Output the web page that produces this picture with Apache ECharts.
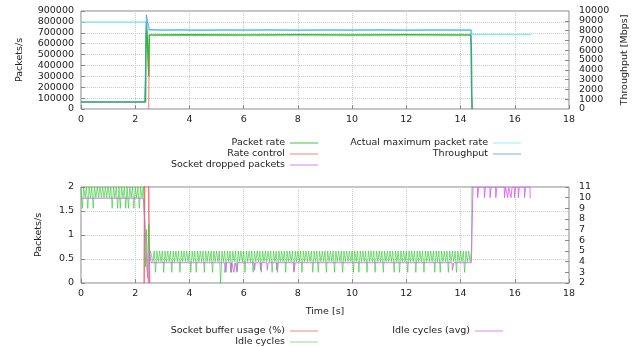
<!DOCTYPE html>
<html>
<head>
<meta charset="utf-8">
<script src="https://cdn.jsdelivr.net/npm/echarts@6/dist/echarts.min.js"></script>
<style>
  html, body { margin: 0; padding: 0; background: #fff; }
  #chart { width: 641px; height: 347px; }
</style>
</head>
<body>
<div id="chart"></div>
<script>
// top panel: [time s, value]
const packetRate = [[0, 65000], [2.38, 65000], [2.40, 630000], [2.42, 800000], [2.47, 800000], [2.50, 300000],
  [2.52, 680000], [4, 682000], [6, 680000], [8, 681000], [10, 680000], [12, 681000], [14.38, 680000],
  [14.40, 520000], [14.42, 0]];
const rateControl = [[2.50, 0], [2.51, 480000]];
const droppedPackets = [];
const actualMaxRate = [[0, 800000], [2.42, 800000], [2.46, 725000], [14.40, 725000], [14.42, 685000], [16.6, 685000]];
const throughput = [[0, 720], [2.34, 720], [2.37, 2900], [2.41, 9600], [2.48, 9600], [2.52, 8100], [3, 8050],
  [3.6, 8070], [4.4, 8040], [5.2, 8060], [6, 8050], [7, 8070], [8, 8040], [9, 8060], [10, 8050], [11, 8070],
  [12, 8040], [13, 8060], [14.38, 8050], [14.40, 1700], [14.43, 1700], [14.45, 0]];

// bottom panel
const bufferUsage = [[2.33, 0], [2.35, 2.3], [2.49, 2.3], [2.51, 1.0], [2.53, 0]];
// idle cycles sampled every 0.05 s
const idleHead = [
  11, 9, 11, 10, 11, 9, 11, 10, 11, 9,
  11, 10, 11, 10, 11, 10, 11, 10, 11, 10,
  11, 10, 11, 9, 11, 10, 11, 9, 11, 9,
  11, 10, 11, 9, 11, 9, 11, 10, 11, 9,
  11, 10, 11, 9, 11, 10, 11];
const idleTransition = [[2.32, 10], [2.35, 7.5], [2.38, 3.5], [2.42, 7.0], [2.46, 2.5], [2.50, 7.5], [2.53, 4.5], [2.56, 5]];
const idleMid = [
  5, 4, 5, 3, 5, 4, 5, 4, 5, 3,
  5, 4, 5, 4, 5, 3, 5, 4, 5, 4,
  5, 3, 5, 4, 5, 4, 5, 4, 5, 3,
  5, 4, 5, 3, 5, 4, 5, 4, 5, 3,
  5, 4, 5, 4, 5, 3, 5, 4, 5, 4,
  5, 2, 5, 4, 5, 3, 5, 4, 5, 3,
  5, 4, 5, 3, 5, 4, 5, 4, 5, 3,
  5, 4, 5, 4, 5, 3, 5, 4, 5, 4,
  5, 3, 5, 4, 5, 4, 5, 4, 5, 3,
  5, 4, 5, 3, 5, 4, 5, 4, 5, 3,
  5, 4, 5, 4, 5, 3, 5, 4, 5, 4,
  5, 3, 5, 4, 5, 4, 5, 4, 5, 3,
  5, 4, 5, 3, 5, 4, 5, 4, 5, 3,
  5, 4, 5, 4, 5, 3, 5, 4, 5, 4,
  5, 3, 5, 4, 5, 4, 5, 4, 5, 3,
  5, 4, 5, 3, 5, 4, 5, 4, 5, 3,
  5, 4, 5, 4, 5, 3, 5, 4, 5, 4,
  5, 3, 5, 4, 5, 4, 5, 4, 5, 3,
  5, 4, 5, 3, 5, 4, 5, 4, 5, 3,
  5, 4, 5, 4, 5, 3, 5, 4, 5, 4,
  5, 3, 5, 4, 5, 4, 5, 4, 5, 3,
  5, 4, 5, 3, 5, 4, 5, 4, 5, 3,
  5, 4, 5, 4, 5, 3, 5, 4, 5, 4,
  5, 3, 5, 4, 5, 4, 5];
const idleTail = [[14.42, 11], [14.46, 11]];
const idleAvg = [[0, 9.95], [2.30, 9.95], [2.36, 7.5], [2.44, 3.0], [2.50, 2.0], [2.52, 5.0], [2.57, 5.0], [2.59, 3.9],
  [5.30, 3.9], [5.31, 3.0], [5.35, 3.0], [5.36, 3.9], [5.51, 3.9], [5.52, 3.0], [5.55, 3.0], [5.56, 3.9],
  [5.63, 3.9], [5.64, 3.0], [5.67, 3.0], [5.68, 3.9], [5.75, 3.9], [5.76, 3.1], [5.78, 3.1], [5.79, 3.9],
  [6.39, 3.9], [6.40, 3.2], [6.42, 3.2], [6.43, 3.9], [6.61, 3.9], [6.62, 3.2], [6.64, 3.2], [6.65, 3.9],
  [6.86, 3.9], [6.87, 3.2], [6.89, 3.2], [6.90, 3.9], [7.21, 3.9], [7.22, 3.2], [7.24, 3.2], [7.25, 3.9],
  [7.85, 3.9], [7.86, 3.1], [7.89, 3.1], [7.90, 3.9], [13.69, 3.9], [13.70, 3.2], [13.74, 3.2], [13.75, 3.9],
  [14.40, 3.9], [14.46, 11],
  [14.62, 11], [14.63, 10], [14.66, 10], [14.67, 11], [14.87, 11], [14.88, 10], [14.91, 10], [14.92, 11],
  [15.08, 11], [15.09, 10], [15.12, 10], [15.13, 11], [15.29, 11], [15.30, 10], [15.33, 10], [15.34, 11],
  [15.61, 11], [15.62, 10], [15.65, 10], [15.66, 11], [15.73, 11], [15.74, 10], [15.77, 10], [15.78, 11],
  [15.85, 11], [15.86, 10], [15.89, 10], [15.90, 11], [15.98, 11], [15.99, 10], [16.02, 10], [16.03, 11],
  [16.12, 11], [16.13, 10], [16.16, 10], [16.17, 11], [16.35, 11], [16.36, 10], [16.39, 10], [16.40, 11],
  [16.56, 11], [16.57, 10], [16.60, 10]];

const idleCycles = []
  .concat(idleHead.map((v, i) => [i * 0.05, v]))
  .concat(idleTransition)
  .concat(idleMid.map((v, i) => [2.6 + i * 0.05, v]))
  .concat(idleTail);

const FONT = 'DejaVu Sans';
const TXT = '#222';

const chart = echarts.init(document.getElementById('chart'));

function xAxis(gridIndex, extra) {
  return Object.assign({
    type: 'value', gridIndex, min: 0, max: 18, interval: 2,
    axisLine: { show: false },
    axisTick: { inside: true, length: 4, lineStyle: { color: '#888' } },
    axisLabel: { color: TXT, fontFamily: FONT, fontSize: 9.5, margin: 6 },
    splitLine: { lineStyle: { color: '#ccc', type: 'dotted' } }
  }, extra || {});
}

function yAxis(gridIndex, pos, min, max, interval, extra, labelExtra) {
  return Object.assign({
    type: 'value', gridIndex, position: pos, min, max, interval,
    axisLine: { show: false },
    axisTick: { show: true, inside: true, length: 4, lineStyle: { color: '#888' } },
    axisLabel: Object.assign({
      color: TXT, fontFamily: FONT, fontSize: 9.5, margin: pos === 'left' ? 7 : 10,
      interval: 0, showMinLabel: true, showMaxLabel: true, hideOverlap: false,
      formatter: v => String(v)
    }, labelExtra || {}),
    splitLine: { show: pos === 'left', lineStyle: { color: '#ccc', type: 'dotted' } },
    nameMoveOverlap: false,
    nameTextStyle: { color: TXT, fontFamily: FONT, fontSize: 9.5 }
  }, extra || {});
}

function line(name, data, color, xi, yi, width) {
  return {
    name, type: 'line', data, xAxisIndex: xi, yAxisIndex: yi,
    symbol: 'none', animation: false,
    lineStyle: { color, width: width || 1 }, itemStyle: { color }
  };
}

function legend(name, right, top) {
  return {
    data: [name], right, top, padding: 0, align: 'right', orient: 'vertical',
    icon: 'rect', itemWidth: 28, itemHeight: 2, selectedMode: false,
    itemStyle: { opacity: 0.45 },
    textStyle: { color: TXT, fontFamily: FONT, fontSize: 9.5 }
  };
}

chart.setOption({
  backgroundColor: '#fff',
  animation: false,
  grid: [
    { left: 81, right: 72, top: 11, height: 98, show: true, borderColor: '#888', borderWidth: 1 },
    { left: 81, right: 72, top: 187, height: 96, show: true, borderColor: '#888', borderWidth: 1 }
  ],
  xAxis: [
    xAxis(0),
    xAxis(1, { name: 'Time [s]', nameLocation: 'middle', nameGap: 24,
      nameTextStyle: { color: TXT, fontFamily: FONT, fontSize: 9.5 } })
  ],
  yAxis: [
    yAxis(0, 'left', 0, 900000, 100000, { name: 'Packets/s', nameLocation: 'middle', nameGap: 56, nameRotate: 90 }),
    // throughput axis: inner labels here, end labels on the overlay axis below
    yAxis(0, 'right', 0, 10000, 1000,
      { name: 'Throughput [Mbps]', nameLocation: 'middle', nameGap: 51, nameRotate: 90 },
      { showMinLabel: false, showMaxLabel: false }),
    yAxis(1, 'left', 0, 2, 0.5, { name: 'Packets/s', nameLocation: 'middle', nameGap: 37, nameRotate: 90 }),
    yAxis(1, 'right', 2, 11, 1),
    yAxis(0, 'right', 0, 10000, 10000, { axisTick: { show: false } })
  ],
  legend: [
    legend('Packet rate', 323, 138),
    legend('Rate control', 323, 149),
    legend('Socket dropped packets', 323, 160),
    legend('Actual maximum packet rate', 120, 138),
    legend('Throughput', 120, 149),
    legend('Socket buffer usage (%)', 323, 326),
    legend('Idle cycles', 323, 337),
    legend('Idle cycles (avg)', 138, 326)
  ],
  series: [
    line('Packet rate', packetRate, 'rgba(30,180,30,0.9)', 0, 0, 1.5),
    line('Rate control', rateControl, 'rgba(255,80,80,0.8)', 0, 0),
    line('Socket dropped packets', droppedPackets, 'rgba(200,80,240,0.8)', 0, 0),
    line('Actual maximum packet rate', actualMaxRate, 'rgba(110,235,235,0.8)', 0, 0, 1.5),
    line('Throughput', throughput, 'rgba(60,140,230,0.75)', 0, 1),
    line('Socket buffer usage (%)', bufferUsage, 'rgba(255,80,80,0.8)', 1, 2, 1.5),
    line('Idle cycles', idleCycles, 'rgba(40,200,40,0.6)', 1, 3),
    line('Idle cycles (avg)', idleAvg, 'rgba(210,100,240,0.85)', 1, 3)
  ]
});
</script>
</body>
</html>
